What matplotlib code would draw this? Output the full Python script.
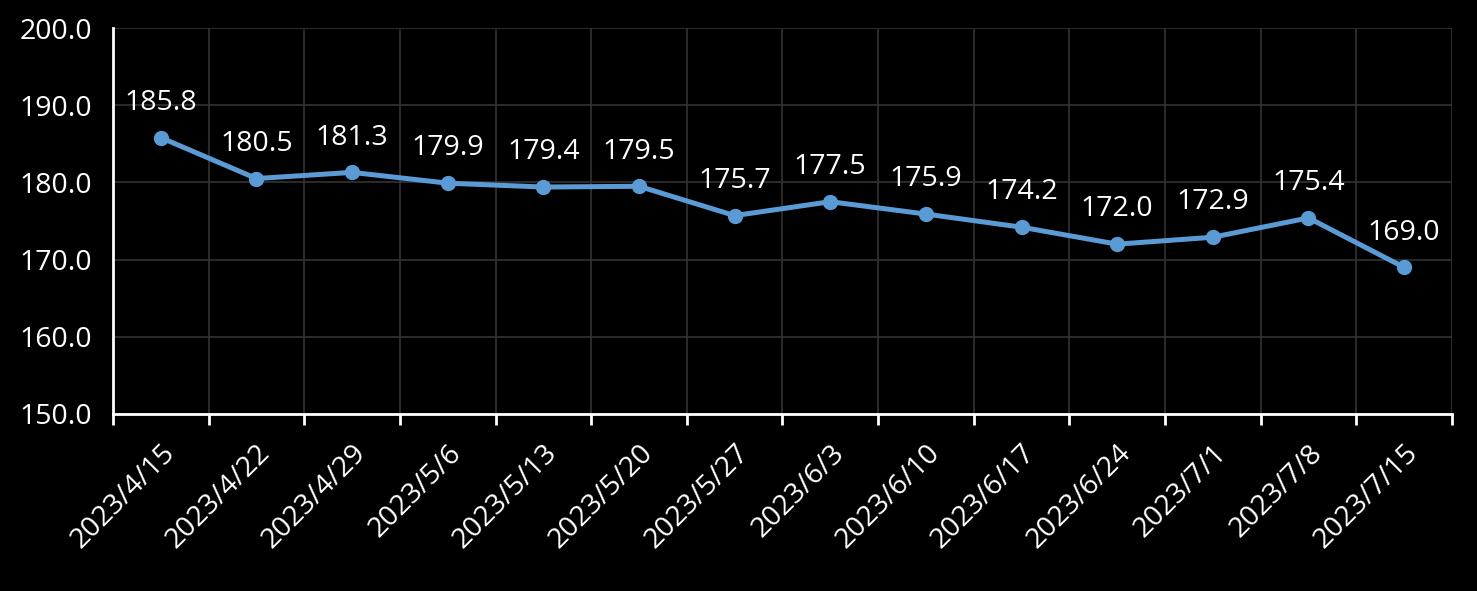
import numpy as np
import matplotlib
matplotlib.use("Agg")
import matplotlib.pyplot as plt

# --- data ---
dates = ["2023/4/15", "2023/4/22", "2023/4/29", "2023/5/6", "2023/5/13",
         "2023/5/20", "2023/5/27", "2023/6/3", "2023/6/10", "2023/6/17",
         "2023/6/24", "2023/7/1", "2023/7/8", "2023/7/15"]
values = [185.8, 180.5, 181.3, 179.9, 179.4, 179.5, 175.7, 177.5,
          175.9, 174.2, 172.0, 172.9, 175.4, 169.0]
y_ticks = [150, 160, 170, 180, 190, 200]

plt.rcParams['font.family'] = ['Open Sans', 'DejaVu Sans']

fig = plt.figure(figsize=(14.77, 5.91), dpi=100, facecolor="black")
ax = fig.add_axes([0.0765, 0.2995, 0.9065, 0.6531])
ax.set_facecolor("black")

x = np.arange(len(dates))
ax.plot(x, values, color="#5B9BD5", linewidth=3.6, marker="o",
        markersize=10, zorder=3)

for xi, v in zip(x, values):
    ax.annotate(f"{v:.1f}", (xi, v), xytext=(0, 25), textcoords="offset points",
                ha="center", va="center", color="white", fontsize=20.5)

ax.set_xlim(-0.5, len(dates) - 0.5)
ax.set_ylim(150, 200)
ax.set_yticks(y_ticks)
ax.set_yticklabels([f"{t:.1f}" for t in y_ticks])
ax.tick_params(axis="y", length=0, pad=15, labelsize=20.5, labelcolor="white")

ax.set_xticks(x)
ax.set_xticklabels(dates, rotation=45, ha="right", va="top",
                   rotation_mode="anchor")
ax.tick_params(axis="x", which="major", length=0, pad=18, labelsize=20.5,
               labelcolor="white")
ax.set_xticks(np.arange(-0.5, len(dates)), minor=True)
ax.tick_params(axis="x", which="minor", length=8, width=2, color="white",
               direction="out")

ax.grid(axis="y", which="major", color="#333333", linewidth=1.2)
ax.grid(axis="x", which="minor", color="#333333", linewidth=1.2)
ax.set_axisbelow(True)

for side in ["top", "right"]:
    ax.spines[side].set_visible(False)
for side in ["left", "bottom"]:
    ax.spines[side].set_color("white")
    ax.spines[side].set_linewidth(2)

fig.savefig("out.png", dpi=100, facecolor="black")
